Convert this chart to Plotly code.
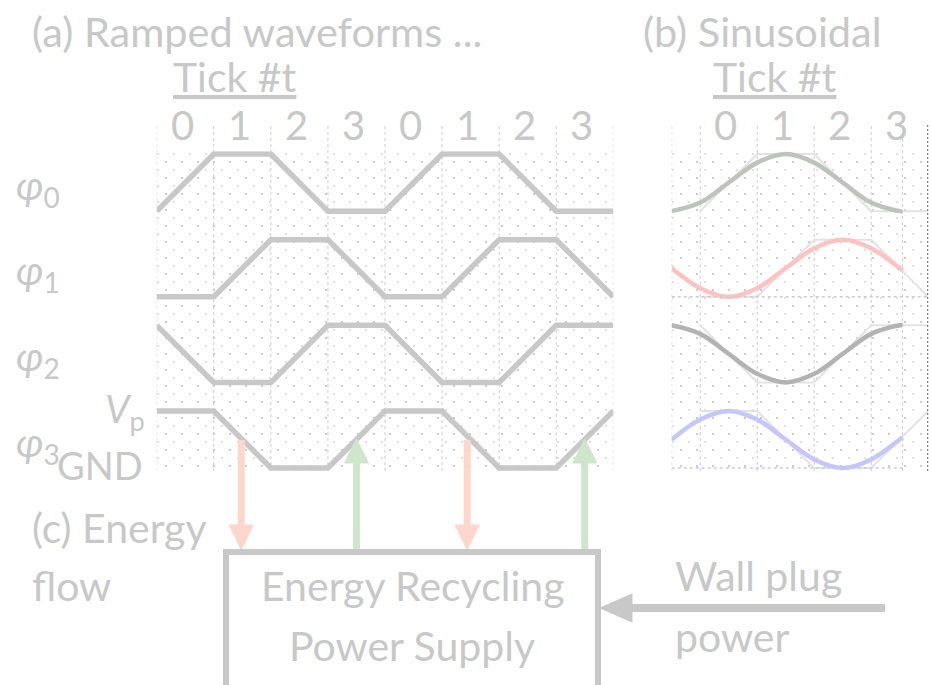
import plotly.graph_objects as go

W, H = 932, 685
def px(x): return x / W
def py(y): return 1 - y / H

FONT = "Lato, 'Noto Sans', sans-serif"
TXT = "#c8c8c8"
LINE = "#c8c8c8"

# ---------------- data ----------------
ticks_a = [0, 1, 2, 3, 4, 5, 6, 7, 8]
phi0 = [0, 1, 1, 0, 0, 1, 1, 0, 0]
phi1 = [0, 0, 1, 1, 0, 0, 1, 1, 0]
phi2 = [1, 0, 0, 1, 1, 0, 0, 1, 1]
phi3 = [1, 1, 0, 0, 1, 1, 0, 0, 1]
tick_labels_a = ["0", "1", "2", "3", "0", "1", "2", "3"]

ticks_b = [0, 1, 2, 3, 4]
u_b = [-0.5, 0, 0.5, 1, 1.5, 2, 2.5, 3, 3.5, 3.55]
sin0 = [0, 0.15, 0.5, 0.85, 1, 0.85, 0.5, 0.15, 0, 0]
sin1 = [0.5, 0.15, 0, 0.15, 0.5, 0.85, 1, 0.85, 0.5, 0.46]
sin2 = [1, 0.85, 0.5, 0.15, 0, 0.15, 0.5, 0.85, 1, 1]
sin3 = [0.5, 0.85, 1, 0.85, 0.5, 0.15, 0, 0.15, 0.5, 0.54]
tick_labels_b = ["0", "1", "2", "3"]
grid_b = [-0.5, 0, 1, 2, 3, 3.55]

row_offset = [4.5, 3.0, 1.5, 0.0]
row_names = ["0", "1", "2", "3"]
sine_colors = ["#bcc4bc", "#ffc2c2", "#b3b3b3", "#c6c6ff"]

red_arrow_x = [1.48, 5.44]
green_arrow_x = [3.5, 7.5]

ramps = [phi0, phi1, phi2, phi3]
sines = [sin0, sin1, sin2, sin3]

fig = go.Figure()

# panel (a) ramped waveforms
for k in range(4):
    fig.add_trace(go.Scatter(
        x=ticks_a, y=[v + row_offset[k] for v in ramps[k]],
        mode="lines", line=dict(color=LINE, width=5.5),
        xaxis="x", yaxis="y", showlegend=False, hoverinfo="skip"))

# panel (b) ramp references and sinusoids
for k in range(4):
    fig.add_trace(go.Scatter(
        x=ticks_b, y=[v + row_offset[k] for v in ramps[k][:5]],
        mode="lines", line=dict(color="#e3e3e3", width=2),
        xaxis="x2", yaxis="y2", showlegend=False, hoverinfo="skip"))
for k in range(4):
    fig.add_trace(go.Scatter(
        x=u_b, y=[v + row_offset[k] for v in sines[k]],
        mode="lines", line=dict(color=sine_colors[k], width=4.5, shape="spline"),
        xaxis="x2", yaxis="y2", showlegend=False, hoverinfo="skip"))

ydom = [py(470.9), py(151.2)]
yrng = [-0.05, 5.55]
UNIT = 57.08
ax_x = dict(showgrid=False, showticklabels=False, zeroline=False,
            showline=False, ticks="", fixedrange=True)
ax_y = dict(showgrid=True, gridcolor="#cccccc", gridwidth=2, griddash="0px,8px,2px,6px",
            dtick=16 / UNIT, tick0=0.04, showticklabels=False, zeroline=False,
            showline=False, ticks="", range=yrng, domain=ydom, fixedrange=True,
            minor=dict(dtick=8 / UNIT, tick0=0.04, showgrid=True, gridcolor="#e0e0e0",
                       gridwidth=1.5, griddash="2px,14px", ticks=""))

fig.update_layout(
    width=W, height=H, margin=dict(l=0, r=0, t=0, b=0),
    paper_bgcolor="white", plot_bgcolor="white",
    font=dict(family=FONT, color=TXT, size=40),
    xaxis=dict(domain=[px(156.7), px(613.3)], range=[0, 8], anchor="y", **ax_x),
    yaxis=dict(anchor="x", **ax_y),
    xaxis2=dict(domain=[px(671.7), px(928.2)], range=[-0.5, 4], anchor="y2", **ax_x),
    yaxis2=dict(anchor="x2", **ax_y),
)

shapes = []
# dashed tick separators
for xv in ticks_a:
    shapes.append(dict(type="line", xref="x", yref="paper", x0=xv, x1=xv, y0=py(471), y1=py(125),
                       line=dict(color="#cdcdcd", width=1, dash="3px,3px"), layer="below"))
for xv in grid_b:
    shapes.append(dict(type="line", xref="x2", yref="paper", x0=xv, x1=xv, y0=py(471), y1=py(125),
                       line=dict(color="#cdcdcd", width=1, dash="3px,3px"), layer="below"))
shapes.append(dict(type="line", xref="x2", yref="paper", x0=4, x1=4, y0=py(471), y1=py(125),
                   line=dict(color="#666666", width=2, dash="2px,2px")))
# row separators in (b)
shapes.append(dict(type="line", xref="x2", yref="y2", x0=-0.5, x1=4, y0=row_offset[1], y1=row_offset[1],
                   line=dict(color="#cccccc", width=1.5, dash="dot")))
shapes.append(dict(type="line", xref="x2", yref="y2", x0=-0.5, x1=3.55, y0=row_offset[3], y1=row_offset[3],
                   line=dict(color="#c6c6ff", width=1.5, dash="dot")))

# energy flow arrows (a)
hw = 12 / UNIT
for xv in red_arrow_x:
    c = "#ffd6cc"
    shapes.append(dict(type="line", xref="x", yref="paper", x0=xv, x1=xv, y0=py(440), y1=py(527),
                       line=dict(color=c, width=7)))
    shapes.append(dict(type="path", xref="x", yref="paper",
                       path=f"M {xv-hw},{py(525)} L {xv+hw},{py(525)} L {xv},{py(550)} Z",
                       fillcolor=c, line=dict(color=c, width=1)))
for xv in green_arrow_x:
    c = "#cfe6cc"
    shapes.append(dict(type="line", xref="x", yref="paper", x0=xv, x1=xv, y0=py(550), y1=py(460),
                       line=dict(color=c, width=7)))
    shapes.append(dict(type="path", xref="x", yref="paper",
                       path=f"M {xv-hw},{py(463)} L {xv+hw},{py(463)} L {xv},{py(439)} Z",
                       fillcolor=c, line=dict(color=c, width=1)))

# power supply box
shapes.append(dict(type="rect", xref="paper", yref="paper", x0=px(226), x1=px(598), y0=py(720), y1=py(552),
                   line=dict(color=LINE, width=6)))
# wall plug arrow
shapes.append(dict(type="line", xref="paper", yref="paper", x0=px(885), x1=px(625), y0=py(608), y1=py(608),
                   line=dict(color=LINE, width=8)))
shapes.append(dict(type="path", xref="paper", yref="paper",
                   path=f"M {px(632)},{py(594)} L {px(632)},{py(622)} L {px(600)},{py(608)} Z",
                   fillcolor=LINE, line=dict(color=LINE, width=1)))

ann = []
def txt(x, y, s, xa="left", size=40, xref="paper", yref="paper"):
    ann.append(dict(x=x, y=y, xref=xref, yref=yref, text=s, showarrow=False,
                    xanchor=xa, yanchor="middle", font=dict(size=size, color=TXT, family=FONT)))

txt(px(30), py(31), "(a) Ramped waveforms ...", size=41.5)
txt(px(171), py(76), "<u>Tick #t</u>", size=41)
txt(px(641), py(31), "(b) Sinusoidal", size=41.5)
txt(px(711), py(76), "<u>Tick #t</u>", size=41)
for i, lab in enumerate(tick_labels_a):
    txt(i + 0.45, py(125), lab, xa="center", xref="x")
for i, lab in enumerate(tick_labels_b):
    txt(i + 0.45, py(125), lab, xa="center", xref="x2")
for k in range(4):
    txt(px(14), row_offset[k] + 0.42, f"<i>φ</i><sub>{row_names[k]}</sub>", yref="y")
txt(px(147), 1.0, "<i>V</i><sub>p</sub>", xa="right", size=39, yref="y")
txt(px(145), 0.06, "GND", xa="right", size=38, yref="y")
txt(px(30), py(527), "(c) Energy", size=41)
txt(px(30), py(585), "flow", size=41)
txt(px(412), py(585), "Energy Recycling", xa="center", size=41)
txt(px(412), py(645), "Power Supply", xa="center", size=41)
txt(px(673), py(575), "Wall plug", size=41)
txt(px(673), py(636), "power", size=41)

fig.update_layout(shapes=shapes, annotations=ann)
fig.write_html("out.html", config={"displayModeBar": False},
               post_script="document.body.style.margin='0';")
